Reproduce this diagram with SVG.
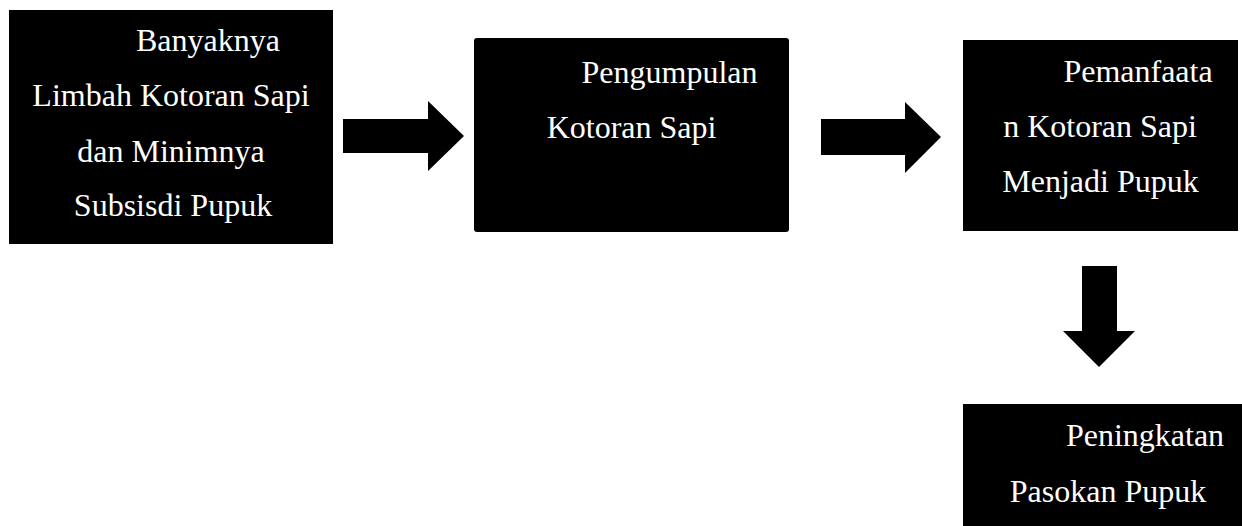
<svg xmlns="http://www.w3.org/2000/svg" width="1242" height="526" viewBox="0 0 1242 526">
<style>
.box{fill:#000}
.t{font-size:32px;fill:#fff;text-anchor:middle}
.arr{fill:#000}
</style>
<rect width="1242" height="526" fill="#fff"/>
<g id="node1" font-family="Liberation Serif, Tinos, Times New Roman, DejaVu Serif, serif">
<rect class="box" x="9" y="10" width="324" height="234"/>
<text class="t" x="208" y="51">Banyaknya</text>
<text class="t" x="171" y="106">Limbah Kotoran Sapi</text>
<text class="t" x="171" y="162">dan Minimnya</text>
<text class="t" x="173" y="216">Subsisdi Pupuk</text>
</g>
<g id="node2" font-family="Liberation Serif, Tinos, Times New Roman, DejaVu Serif, serif">
<rect class="box" x="474" y="38" width="315" height="194" rx="3"/>
<text class="t" x="669.5" y="83">Pengumpulan</text>
<text class="t" x="631.5" y="138">Kotoran Sapi</text>
</g>
<g id="node3" font-family="Liberation Serif, Tinos, Times New Roman, DejaVu Serif, serif">
<rect class="box" x="963" y="40" width="275" height="191"/>
<text class="t" x="1138" y="82">Pemanfaata</text>
<text class="t" x="1100" y="137">n Kotoran Sapi</text>
<text class="t" x="1100.5" y="192">Menjadi Pupuk</text>
</g>
<g id="node4" font-family="Liberation Serif, Tinos, Times New Roman, DejaVu Serif, serif">
<rect class="box" x="963" y="404" width="300" height="130"/>
<text class="t" x="1145" y="446">Peningkatan</text>
<text class="t" x="1108" y="502">Pasokan Pupuk</text>
</g>
<g id="connectors">
<polygon class="arr" points="343,119 428,119 428,101 464,136 428,171 428,153 343,153"/>
<polygon class="arr" points="821,119 905,119 905,102 941,137 905,173 905,155 821,155"/>
<polygon class="arr" points="1082,266 1117,266 1117,331 1135,331 1099,367 1063,331 1082,331"/>
</g>
</svg>
